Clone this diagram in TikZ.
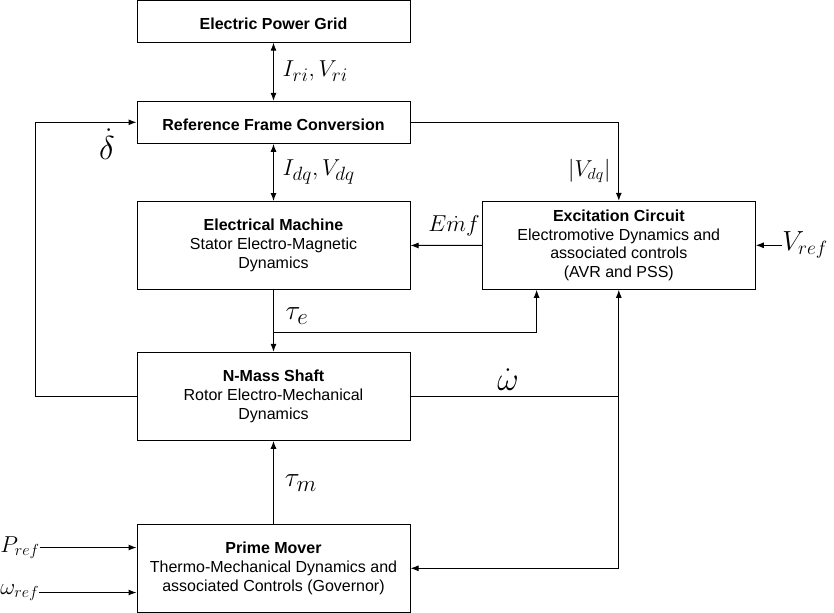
\documentclass[tikz,border=0pt]{standalone}
\usepackage{amssymb}
\usepackage{fontspec}
\setmainfont{Liberation Sans}
\def\defaultscriptratio{.75}
\usepackage{tikz}
\usetikzlibrary{arrows.meta,positioning,calc}

\begin{document}
\begin{tikzpicture}[x=0.75pt,y=-0.75pt]
				\tikzstyle{Block} 	= [draw, line width=0.75pt, minimum width=204.75pt, align=center, inner sep=0pt, font=\fontsize{12}{14}\selectfont, execute at begin node={\rule{0pt}{13pt}}]
				\tikzstyle{Thin}		= [minimum height=31.5pt]
				\tikzstyle{Tall}		= [minimum height=66pt]
				\tikzstyle{Sig}		= [inner sep=1pt, font=\fontsize{19}{19}\selectfont]
				\tikzstyle{BigSig}	= [inner sep=1pt, font=\fontsize{24}{24}\selectfont]
				\tikzstyle{Tau}		= [inner sep=1pt, font=\fontsize{22}{22}\selectfont]
				\tikzstyle{Ext}		= [anchor=west, inner sep=0pt, font=\fontsize{16}{16}\selectfont]
				\tikzstyle{Arrow}		= [line width=0.75pt, -{Latex[length=6pt,width=4.5pt]}]
				\tikzstyle{Both}		= [line width=0.75pt, {Latex[length=6pt,width=4.5pt]}-{Latex[length=6pt,width=4.5pt]}]
				\tikzstyle{Line}		= [line width=0.75pt]

				\useasboundingbox (0,0) rectangle (834,613);

				% blocks
				\node (grid) at (273.5,21.2) [Block][Thin] {\textbf{Electric Power Grid}};
				\node (rfc) at (273.5,122.3) [Block][Thin] {\textbf{Reference Frame Conversion}};
				\node (em) at (273.5,245.5) [Block][Tall] {\textbf{Electrical Machine}\\Stator Electro-Magnetic\\Dynamics};
				\node (exc) at (618.8,245.3) [Block][Tall] {\textbf{Excitation Circuit}\\Electromotive Dynamics and\\associated controls\\(AVR and PSS)};
				\node (shaft) at (273.5,396.3) [Block][Tall] {\textbf{N-Mass Shaft}\\Rotor Electro-Mechanical\\Dynamics};
				\node (pm) at (273.5,568.3) [Block][Tall] {\textbf{Prime Mover}\\Thermo-Mechanical Dynamics and\\associated Controls (Governor)};

				% outside inputs
				\node (vref) at (782,245.3) [Ext][font=\fontsize{20}{20}\selectfont] {$V_{ref}$};
				\node (pref) at (0,547.5) [Ext] {$P_{ref}$};
				\node (wref) at (0,592.5) [Ext] {$\omega_{ref}$};

				% bends
				\coordinate (dl) at (35.7,396.3);
				\coordinate (te) at (273.5,332.3);
				\coordinate (wj) at (618.8,396.3);

				\draw [Both] (grid) to (rfc);
				\draw [Both] (rfc) to (em);
				\draw [Arrow] (shaft.west) -- (dl) |- (rfc.west);
				\draw [Arrow] (rfc.east) -| (exc.north);
				\draw [Arrow] (exc.west) to (em.east);
				\draw [Arrow] (vref.west) to (exc.east);
				\draw [Arrow] (em.south) to (shaft.north);
				\draw [Arrow] (te) -| ($(exc.south west)!0.2!(exc.south east)$);
				\draw [Line] (shaft.east) to (wj);
				\draw [Arrow] (wj) to (exc.south);
				\draw [Arrow] (wj) |- (pm.east);
				\draw [Arrow] (pm.north) to (shaft.south);
				\draw [Arrow] (pref.east) to (pref.east -| pm.west);
				\draw [Arrow] (wref.east) to (wref.east -| pm.west);

				% signal labels
				\node at (281,71) [Sig][anchor=west] {$I_{ri}, V_{ri}$};
				\node at (281,172) [Sig][anchor=west] {$I_{dq}, V_{dq}$};
				\node at (612,171) [Sig][anchor=east, font=\fontsize{17}{17}\selectfont] {$|V_{dq}|$};
				\node at (454,226) [Sig] {$E\dot{m}f$};
				\node at (107,144) [BigSig] {$\dot{\delta}$};
				\node at (297,316) [Tau] {$\tau_e$};
				\node at (508,380) [BigSig] {$\dot{\omega}$};
				\node at (301,483) [Tau] {$\tau_m$};
			\end{tikzpicture}
\end{document}
